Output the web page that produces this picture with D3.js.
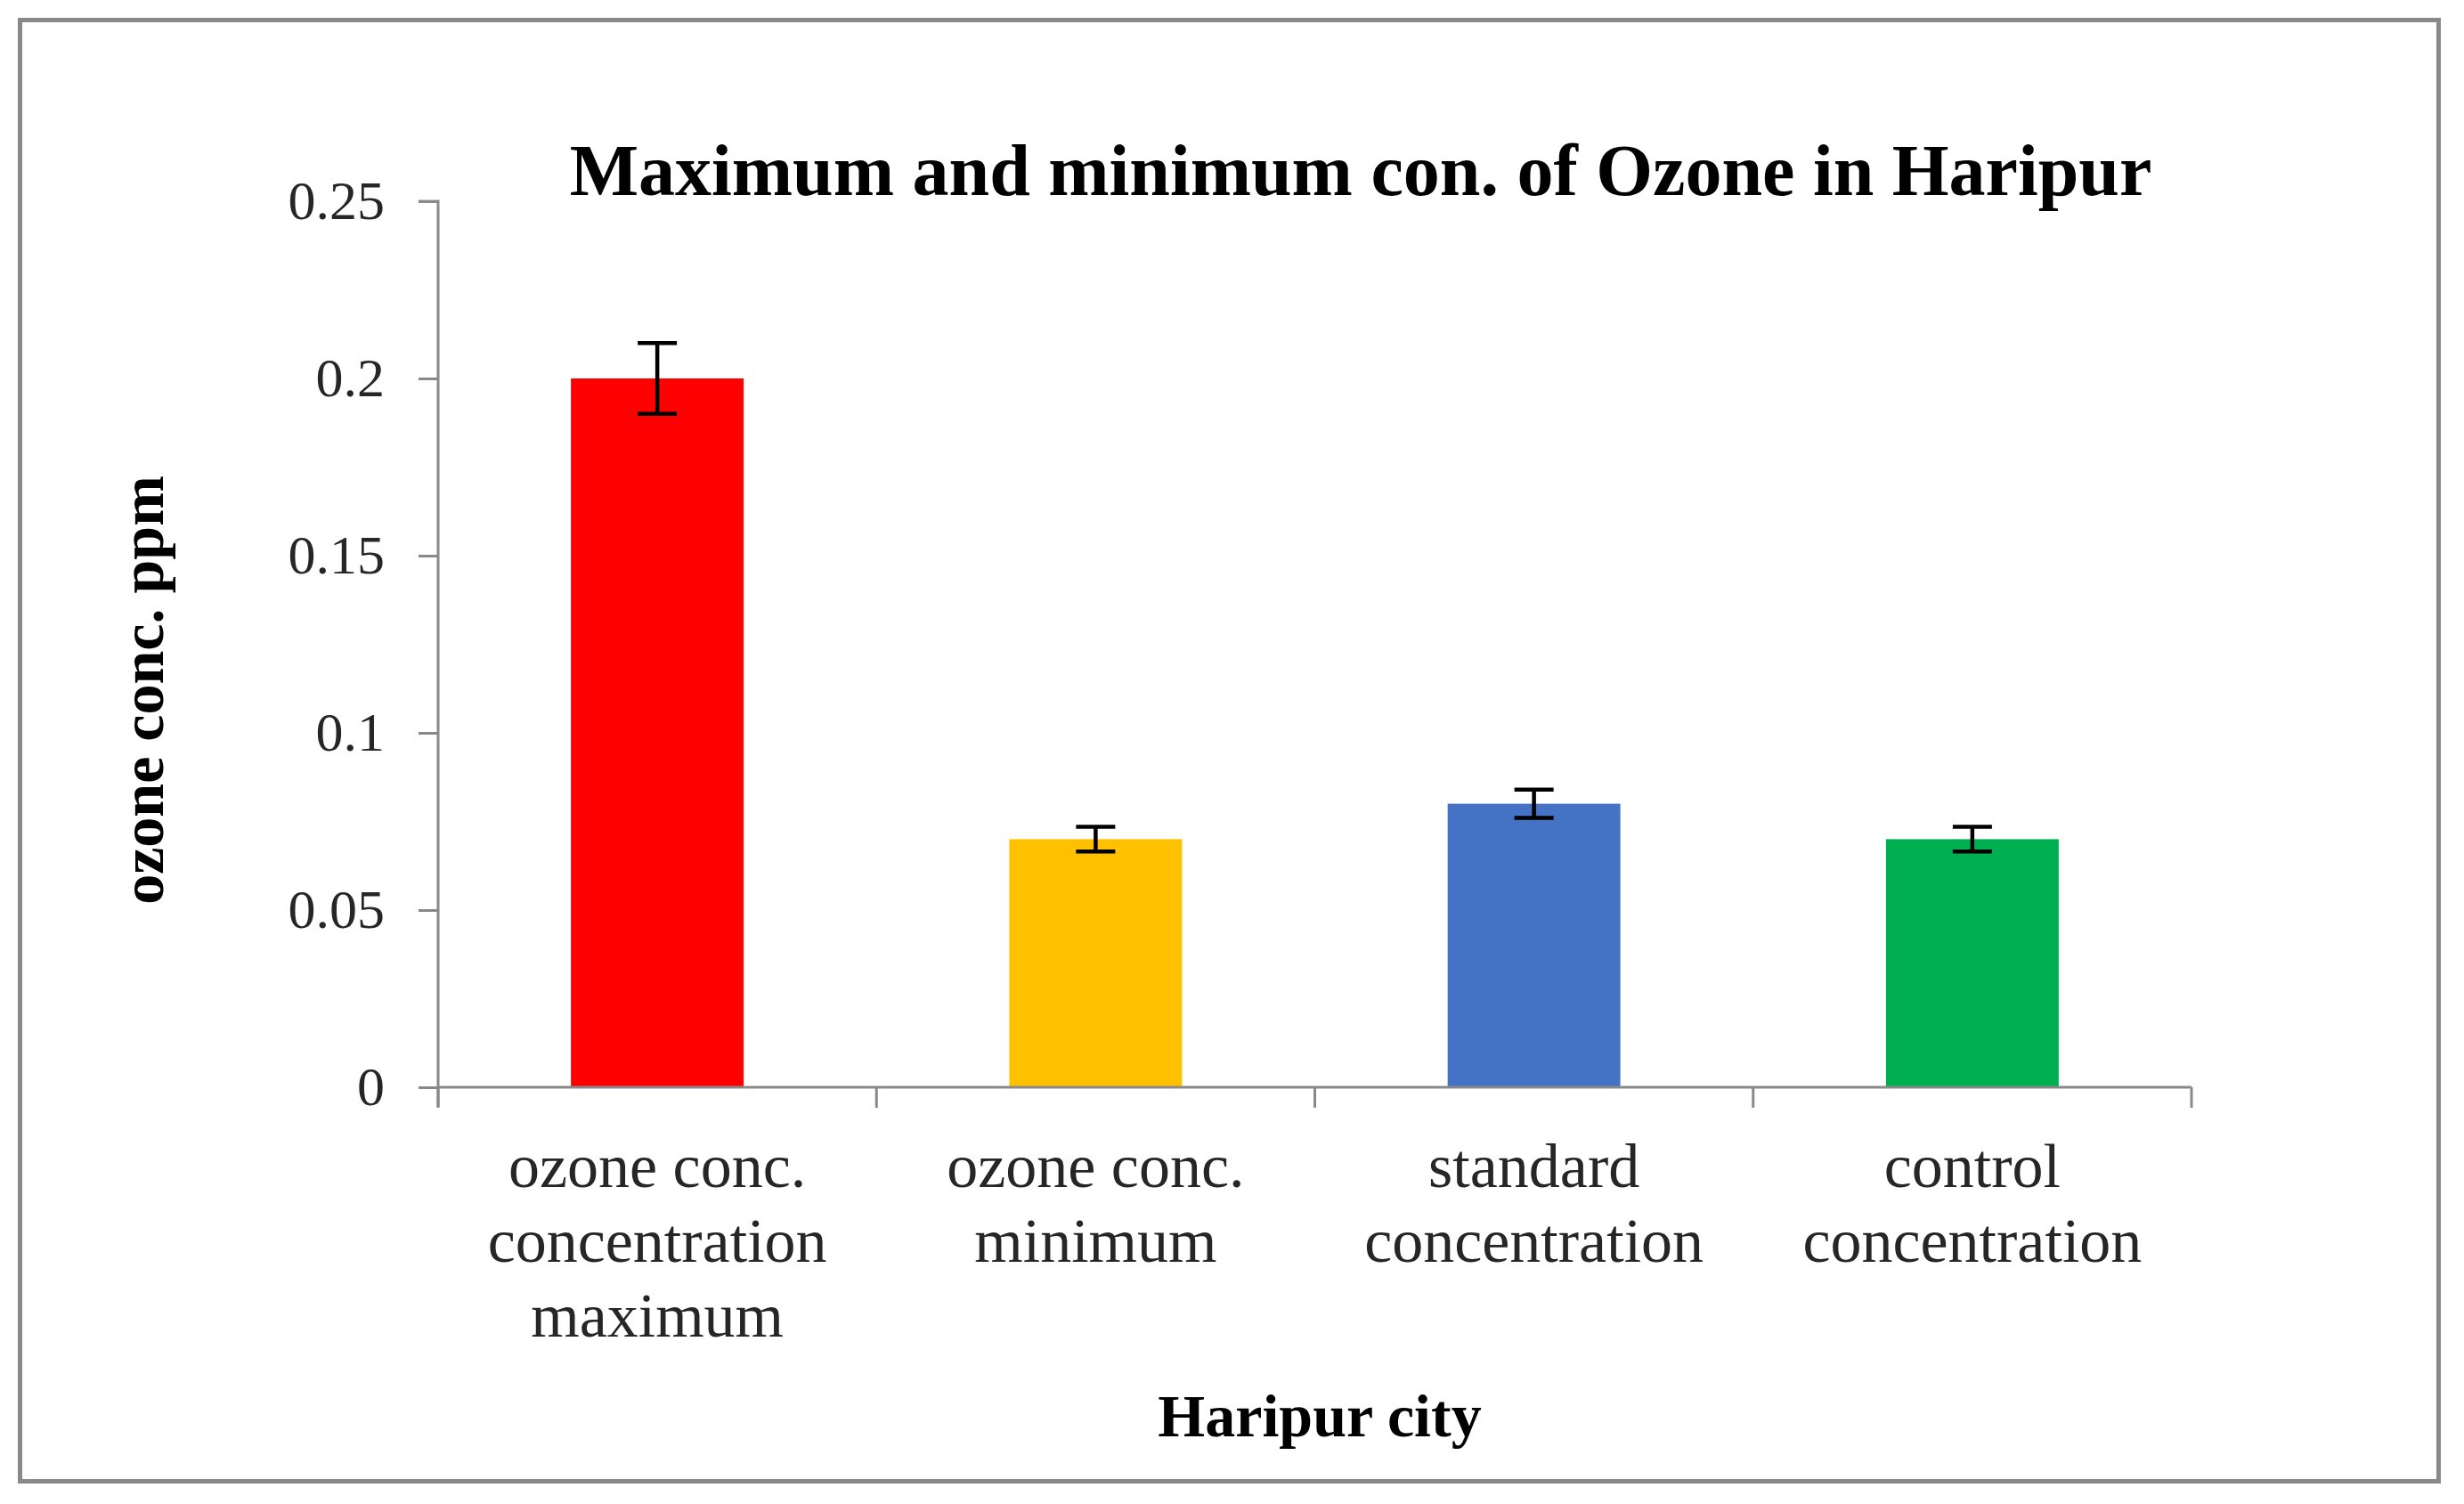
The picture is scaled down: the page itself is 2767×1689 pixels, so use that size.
<!DOCTYPE html>
<html>
<head>
<meta charset="utf-8">
<script src="https://cdn.jsdelivr.net/npm/d3@7"></script>
<style>
  html, body { margin: 0; padding: 0; background: #fff; }
  svg { display: block; }
</style>
</head>
<body>
<script>
// ---- data ----
const categories = [
  ["ozone conc.", "concentration", "maximum"],
  ["ozone conc.", "minimum"],
  ["standard", "concentration"],
  ["control", "concentration"]
];
const values = [0.2, 0.07, 0.08, 0.07];
const errors = [0.01, 0.0035, 0.004, 0.0035];
const colors = ["#FF0000", "#FFC000", "#4472C4", "#00B050"];
const yTicks = [0, 0.05, 0.1, 0.15, 0.2, 0.25];
const yTickLabels = ["0", "0.05", "0.1", "0.15", "0.2", "0.25"];
const titleText = "Maximum and minimum con. of Ozone in Haripur";
const xTitle = "Haripur city";
const yTitle = "ozone conc. ppm";

// ---- layout ----
const W = 2767, H = 1689;
const plot = { left: 492, right: 2461, top: 226, bottom: 1221 };
const font = "'Liberation Serif', 'Times New Roman', serif";
const axisColor = "#898989";

const svg = d3.select("body").append("svg")
  .attr("width", W).attr("height", H);

svg.append("rect").attr("x", 0).attr("y", 0).attr("width", W).attr("height", H).attr("fill", "#fff");
svg.append("rect")
  .attr("x", 22.5).attr("y", 22.5)
  .attr("width", 2716).attr("height", 1641)
  .attr("fill", "none").attr("stroke", axisColor).attr("stroke-width", 5);

const idx = d3.range(categories.length);
const xCat = d3.scaleBand().domain(idx).range([plot.left, plot.right]).padding(0);
const xBar = d3.scaleBand().domain(idx).range([plot.left, plot.right])
  .paddingInner(0.606).paddingOuter(0.303);
const y = d3.scaleLinear().domain([0, 0.25]).range([plot.bottom, plot.top]);

// bars
svg.append("g").selectAll("rect").data(idx).join("rect")
  .attr("x", i => xBar(i))
  .attr("y", i => y(values[i]))
  .attr("width", xBar.bandwidth())
  .attr("height", i => y(0) - y(values[i]))
  .attr("fill", i => colors[i]);

// y axis
const yAxis = d3.axisLeft(y).tickValues(yTicks)
  .tickFormat((d, i) => yTickLabels[i]).tickSize(22).tickPadding(38);
const gy = svg.append("g").attr("transform", `translate(${plot.left},0)`).call(yAxis);
gy.select(".domain").attr("stroke", axisColor).attr("stroke-width", 3)
  .attr("d", `M-22,${plot.top}H0V${plot.bottom + 22}`);
gy.selectAll(".tick line").attr("stroke", axisColor).attr("stroke-width", 3);
gy.selectAll(".tick text").attr("font-family", font).attr("font-size", 62)
  .attr("fill", "#262626");

// x axis line and category boundary ticks
const gx = svg.append("g");
gx.append("line")
  .attr("x1", plot.left).attr("x2", plot.right)
  .attr("y1", y(0)).attr("y2", y(0))
  .attr("stroke", axisColor).attr("stroke-width", 3);
const bounds = idx.map(i => xCat(i)).concat([xCat(idx[idx.length - 1]) + xCat.bandwidth()]);
gx.selectAll("line.tk").data(bounds).join("line").attr("class", "tk")
  .attr("x1", d => d).attr("x2", d => d)
  .attr("y1", y(0)).attr("y2", y(0) + 23)
  .attr("stroke", axisColor).attr("stroke-width", 3);

// category labels
const lab = gx.selectAll("text.cat").data(idx).join("text").attr("class", "cat")
  .attr("x", i => xCat(i) + xCat.bandwidth() / 2)
  .attr("y", y(0) + 112)
  .attr("text-anchor", "middle")
  .attr("font-family", font).attr("font-size", 70).attr("fill", "#262626");
lab.selectAll("tspan").data(i => categories[i].map(t => ({ t, i }))).join("tspan")
  .attr("x", d => xCat(d.i) + xCat.bandwidth() / 2)
  .attr("dy", (d, k) => k === 0 ? 0 : 84)
  .text(d => d.t);

// error bars
const eb = svg.append("g").attr("stroke", "#000").attr("stroke-width", 4.5);
idx.forEach(i => {
  const cx = xBar(i) + xBar.bandwidth() / 2;
  const hi = y(values[i] + errors[i]), lo = y(values[i] - errors[i]);
  eb.append("line").attr("x1", cx).attr("x2", cx).attr("y1", hi).attr("y2", lo);
  eb.append("line").attr("x1", cx - 22).attr("x2", cx + 22).attr("y1", hi).attr("y2", hi);
  eb.append("line").attr("x1", cx - 22).attr("x2", cx + 22).attr("y1", lo).attr("y2", lo);
});

// titles
svg.append("text").attr("x", 1528).attr("y", 219)
  .attr("text-anchor", "middle").attr("font-family", font)
  .attr("font-weight", "bold").attr("font-size", 82).attr("fill", "#000")
  .text(titleText);
svg.append("text").attr("x", 1482).attr("y", 1613)
  .attr("text-anchor", "middle").attr("font-family", font)
  .attr("font-weight", "bold").attr("font-size", 68).attr("fill", "#000")
  .text(xTitle);
svg.append("text")
  .attr("transform", `translate(183,775) rotate(-90)`)
  .attr("text-anchor", "middle").attr("font-family", font)
  .attr("font-weight", "bold").attr("font-size", 68).attr("fill", "#000")
  .text(yTitle);
</script>
</body>
</html>
